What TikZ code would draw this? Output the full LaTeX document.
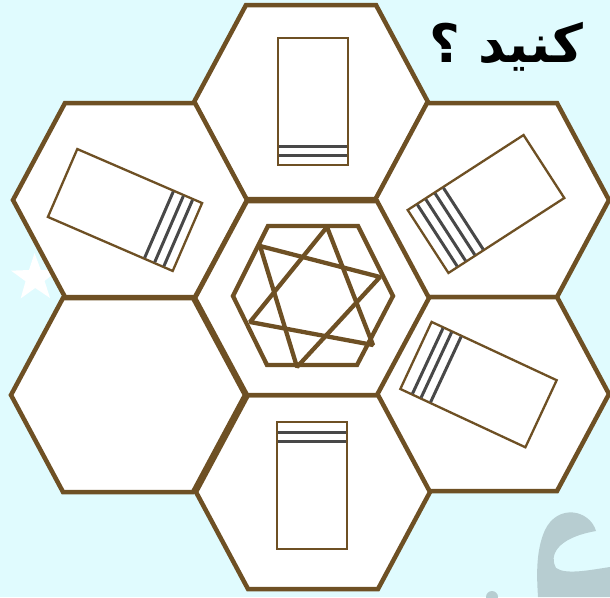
\documentclass[tikz,border=0pt]{standalone}
\usepackage{fontspec}
\newfontfamily\arabicfont[Script=Arabic]{DejaVu Sans}
\TeXXeTstate=1
\definecolor{bgcyan}{RGB}{224,251,254}
\definecolor{hexbrown}{RGB}{110,80,36}
\definecolor{stripegray}{RGB}{72,72,72}
\definecolor{wmark}{RGB}{183,205,209}
\tikzset{
  hexstyle/.style={draw=hexbrown,line width=4.5pt,fill=white,line join=miter},
  rectstyle/.style={draw=hexbrown,line width=2.3pt,fill=white},
  stripestyle/.style={draw=stripegray,line width=3pt},
  starline/.style={draw=hexbrown,line width=4.3pt,line join=bevel},
}
\begin{document}
\begin{tikzpicture}[x=1pt,y=-1pt]
\useasboundingbox (0,0) rectangle (610,597);
\fill[bgcyan] (0,0) rectangle (610,597);
% white star on the left
\fill[white] (35,278) +(125:25) -- +(161:10) -- +(197:25) -- +(233:10) -- +(269:25) -- +(305:10) -- +(341:25) -- +(17:10) -- +(53:25) -- +(89:10) -- cycle;
% watermark
\fill[wmark] (596,531) .. controls (590,510) and (558,503) .. (545,530) .. controls (535,552) and (537,580) .. (538,597) -- (610,597) -- (610,567) .. controls (590,570) and (566,575) .. (556,568) .. controls (549,556) and (556,538) .. (596,531) -- cycle;
\fill[wmark] (492,597) circle (6);
% hexagons
\foreach \cx/\cy in {311/102, 130/200, 492/200, 128/395, 492/394, 313/492, 312/298}
  \draw[hexstyle,shift={(\cx,\cy)}] (-65,-97) -- (65,-97) -- (117,0) -- (65,97) -- (-65,97) -- (-117,0) -- cycle;
% central small hexagon and star
\draw[hexbrown,line width=4.3pt,line join=miter] (268,226) -- (358,226) -- (393,296) -- (357,365) -- (267,365) -- (233,296) -- cycle;
\coordinate (a1) at (327,227);
\coordinate (a2) at (250,322);
\coordinate (a3) at (373,345);
\coordinate (b1) at (260,246);
\coordinate (b2) at (380,277);
\coordinate (b3) at (297,367);
\draw[starline] (a1) -- (a2) -- (a3) -- cycle;
\draw[starline] (b1) -- (b2) -- (b3) -- cycle;
% top rectangle
\draw[rectstyle] (278,38) rectangle (348,165);
\draw[stripestyle] (279.2,146) -- (346.8,146);
\draw[stripestyle] (279.2,155) -- (346.8,155);
% bottom rectangle
\draw[rectstyle] (277,422) rectangle (347,549);
\draw[stripestyle] (278.2,432) -- (345.8,432);
\draw[stripestyle] (278.2,441) -- (345.8,441);
% upper-left rectangle
\begin{scope}[shift={(125,210)},rotate=-23.4]
  \draw[rectstyle] (-68,-37) rectangle (68,37);
  \foreach \s in {37,48,58} \draw[stripestyle] (\s,-36) -- (\s,36);
\end{scope}
% upper-right rectangle
\begin{scope}[shift={(486,204)},rotate=32.9]
  \draw[rectstyle] (-69,-37.5) rectangle (69,37.5);
  \foreach \s in {-58,-48,-37,-27} \draw[stripestyle] (\s,-36.5) -- (\s,36.5);
\end{scope}
% lower-right rectangle
\begin{scope}[shift={(478.5,384.6)},rotate=-25]
  \draw[rectstyle] (-69,-37) rectangle (69,37);
  \foreach \s in {-56,-46.5,-36} \draw[stripestyle] (\s,-36) -- (\s,36);
\end{scope}
% title text
\node[font=\arabicfont\bfseries\fontsize{53}{58}\selectfont,inner sep=0pt] (title) at (506,47) {\beginR کنید ؟\endR};
\end{tikzpicture}
\end{document}
